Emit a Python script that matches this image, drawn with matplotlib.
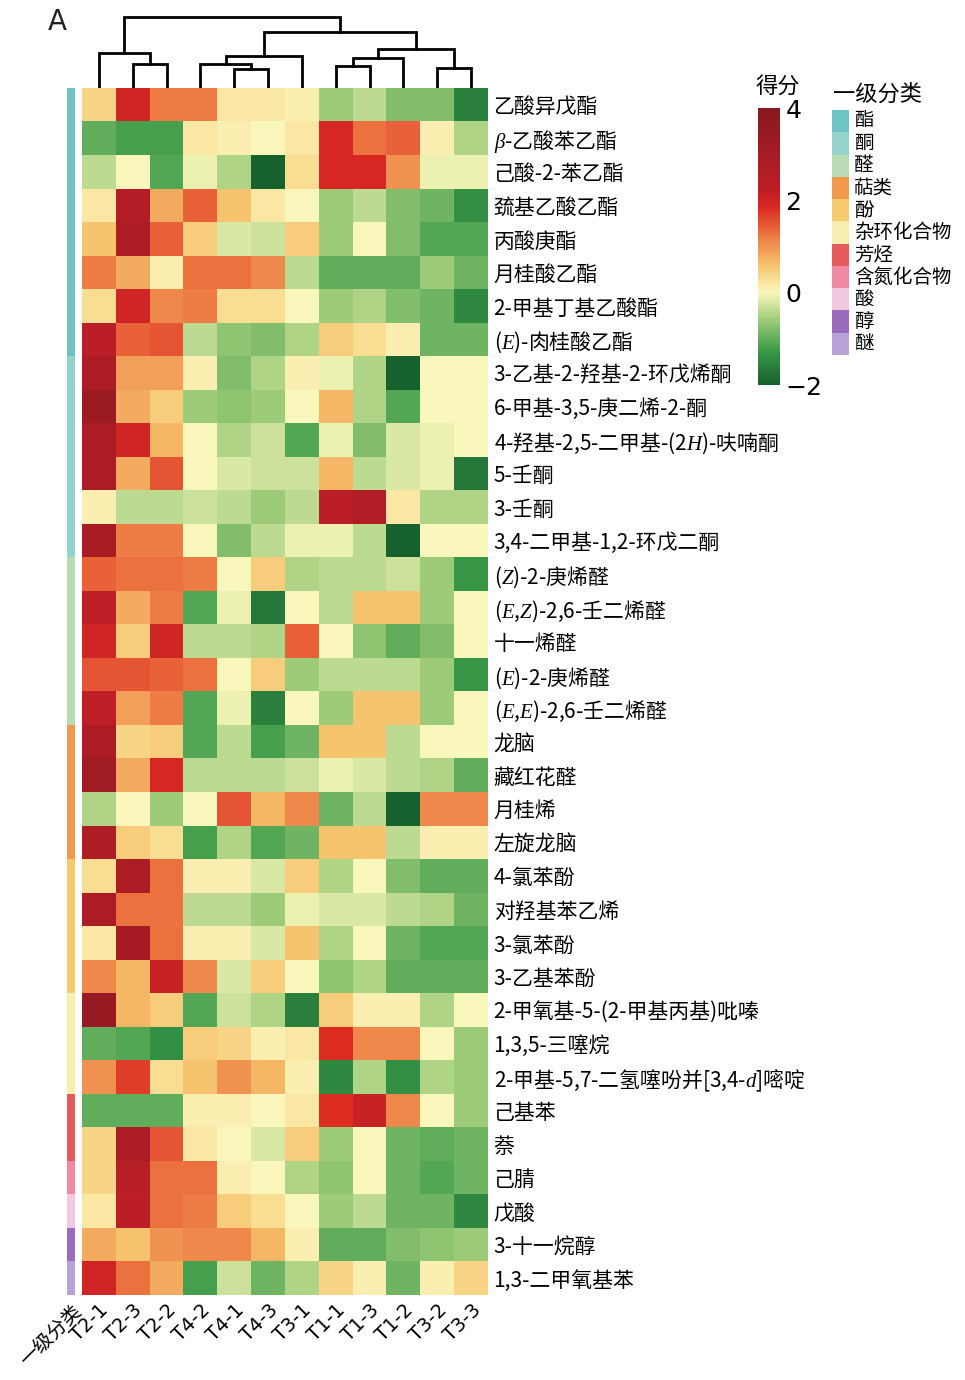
import numpy as np
import matplotlib
matplotlib.use('Agg')
import matplotlib.pyplot as plt
from matplotlib.colors import LinearSegmentedColormap, ListedColormap, Normalize

plt.rcParams['font.family'] = ['Noto Sans CJK SC', 'DejaVu Sans']
plt.rcParams['mathtext.fontset'] = 'custom'
plt.rcParams['mathtext.rm'] = 'Noto Sans CJK SC'
plt.rcParams['mathtext.it'] = 'Liberation Serif:italic'
plt.rcParams['axes.unicode_minus'] = True

# samples (column order after clustering)
samples = ['T2-1', 'T2-3', 'T2-2', 'T4-2', 'T4-1', 'T4-3', 'T3-1',
           'T1-1', 'T1-3', 'T1-2', 'T3-2', 'T3-3']

compounds = ['乙酸异戊酯', r'$\beta$-乙酸苯乙酯', '己酸-2-苯乙酯', '巯基乙酸乙酯',
             '丙酸庚酯', '月桂酸乙酯', '2-甲基丁基乙酸酯', r'($E$)-肉桂酸乙酯',
             '3-乙基-2-羟基-2-环戊烯酮', '6-甲基-3,5-庚二烯-2-酮',
             r'4-羟基-2,5-二甲基-(2$H$)-呋喃酮', '5-壬酮', '3-壬酮',
             '3,4-二甲基-1,2-环戊二酮', r'($Z$)-2-庚烯醛', r'($E$,$Z$)-2,6-壬二烯醛',
             '十一烯醛', r'($E$)-2-庚烯醛', r'($E$,$E$)-2,6-壬二烯醛', '龙脑',
             '藏红花醛', '月桂烯', '左旋龙脑', '4-氯苯酚', '对羟基苯乙烯', '3-氯苯酚',
             '3-乙基苯酚', '2-甲氧基-5-(2-甲基丙基)吡嗪', '1,3,5-三噻烷',
             r'2-甲基-5,7-二氢噻吩并[3,4-$d$]嘧啶', '己基苯', '萘', '己腈', '戊酸',
             '3-十一烷醇', '1,3-二甲氧基苯']

# first-level class of each compound (index into class_names)
row_class = [0] * 8 + [1] * 6 + [2] * 5 + [3] * 4 + [4] * 4 + [5] * 3 + [6] * 2 + [7, 8, 9, 10]

class_names = ['酯', '酮', '醛', '萜类', '酚', '杂环化合物', '芳烃', '含氮化合物', '酸', '醇', '醚']
class_colors = ['#6ec3c4', '#94d3c9', '#b9dcb2', '#f19a4e', '#f6cb6e', '#f6efb0',
                '#e65a5c', '#ef8aa2', '#f2c9e0', '#9a6cbd', '#b7a3d9']

# z-scores
scores = np.array([
    [0.4, 2.0, 1.2, 1.2, 0.2, 0.2, 0.1, -0.6, -0.4, -0.8, -0.8, -1.6],
    [-1.0, -1.2, -1.2, 0.2, 0.1, 0.0, 0.2, 1.9, 1.3, 1.4, 0.1, -0.5],
    [-0.4, 0.0, -1.1, -0.1, -0.5, -2.0, 0.3, 1.9, 1.9, 1.0, -0.1, -0.1],
    [0.2, 2.6, 0.8, 1.4, 0.6, 0.2, 0.0, -0.6, -0.4, -0.8, -0.9, -1.4],
    [0.6, 2.7, 1.4, 0.5, -0.2, -0.3, 0.5, -0.6, 0.0, -0.8, -1.1, -1.1],
    [1.2, 0.8, 0.1, 1.3, 1.3, 1.1, -0.4, -1.0, -1.0, -1.0, -0.6, -0.9],
    [0.3, 2.0, 1.1, 1.2, 0.3, 0.3, 0.0, -0.6, -0.5, -0.8, -0.9, -1.5],
    [2.3, 1.4, 1.5, -0.4, -0.7, -0.8, -0.5, 0.5, 0.3, 0.1, -0.9, -0.9],
    [2.8, 0.9, 0.9, 0.1, -0.8, -0.5, 0.1, -0.1, -0.5, -2.0, 0.0, 0.0],
    [3.3, 0.8, 0.5, -0.6, -0.7, -0.6, 0.0, 0.7, -0.5, -1.1, 0.0, 0.0],
    [2.8, 2.0, 0.7, 0.0, -0.5, -0.3, -1.1, -0.1, -0.8, -0.2, -0.1, 0.0],
    [2.8, 0.8, 1.5, 0.0, -0.2, -0.3, -0.3, 0.7, -0.4, -0.2, -0.1, -1.7],
    [0.1, -0.4, -0.4, -0.3, -0.4, -0.6, -0.4, 2.3, 2.6, 0.2, -0.5, -0.5],
    [2.9, 1.2, 1.2, 0.0, -0.8, -0.4, -0.1, -0.1, -0.4, -2.0, 0.0, 0.0],
    [1.4, 1.3, 1.3, 1.2, 0.0, 0.5, -0.5, -0.4, -0.4, -0.3, -0.6, -1.3],
    [2.2, 0.8, 1.2, -1.1, -0.1, -1.7, 0.0, -0.4, 0.6, 0.6, -0.6, 0.0],
    [2.0, 0.5, 2.0, -0.4, -0.4, -0.5, 1.4, 0.0, -0.7, -1.0, -0.8, 0.0],
    [1.5, 1.5, 1.4, 1.3, 0.0, 0.5, -0.6, -0.4, -0.4, -0.4, -0.6, -1.3],
    [2.2, 0.9, 1.2, -1.1, -0.1, -1.6, 0.0, -0.6, 0.6, 0.6, -0.6, 0.0],
    [2.8, 0.4, 0.5, -1.1, -0.4, -1.2, -0.9, 0.6, 0.6, -0.4, 0.0, 0.0],
    [3.2, 0.8, 1.9, -0.4, -0.4, -0.4, -0.3, -0.1, -0.2, -0.4, -0.5, -1.0],
    [-0.5, 0.0, -0.6, 0.0, 1.5, 0.7, 1.1, -0.9, -0.4, -2.0, 1.1, 1.1],
    [2.7, 0.5, 0.3, -1.2, -0.5, -1.1, -0.9, 0.6, 0.6, -0.4, 0.1, 0.1],
    [0.3, 2.8, 1.3, 0.1, 0.1, -0.2, 0.5, -0.5, 0.0, -0.8, -1.0, -1.0],
    [2.8, 1.3, 1.3, -0.4, -0.4, -0.6, -0.1, -0.2, -0.2, -0.4, -0.5, -0.9],
    [0.2, 3.0, 1.3, 0.1, 0.1, -0.2, 0.6, -0.5, 0.0, -0.9, -1.1, -1.1],
    [1.1, 0.7, 2.1, 1.1, -0.2, 0.5, 0.0, -0.7, -0.5, -1.0, -1.0, -1.0],
    [3.5, 0.7, 0.5, -1.1, -0.3, -0.5, -1.6, 0.5, 0.1, 0.1, -0.5, 0.0],
    [-1.0, -1.1, -1.4, 0.5, 0.4, 0.1, 0.2, 1.8, 1.1, 1.1, 0.0, -0.6],
    [1.0, 1.7, 0.3, 0.6, 1.0, 0.7, 0.1, -1.5, -0.5, -1.4, -0.5, -0.6],
    [-1.0, -1.0, -1.0, 0.1, 0.1, 0.0, 0.2, 1.8, 2.1, 1.1, 0.0, -0.6],
    [0.4, 2.8, 1.5, 0.2, 0.0, -0.2, 0.5, -0.6, 0.0, -0.9, -1.0, -0.9],
    [0.4, 2.4, 1.3, 1.3, 0.1, 0.0, -0.5, -0.7, 0.0, -0.9, -1.1, -0.9],
    [0.2, 2.3, 1.3, 1.2, 0.5, 0.3, 0.0, -0.6, -0.4, -0.9, -0.9, -1.5],
    [0.8, 0.6, 1.0, 1.1, 1.1, 0.7, 0.1, -1.0, -1.0, -0.8, -0.7, -0.6],
    [2.0, 1.3, 0.8, -1.2, -0.3, -0.9, -0.5, 0.4, 0.1, -0.9, 0.1, 0.4],
])

# column dendrogram: (left node, right node, height); nodes >= 12 are earlier merges
merges = [(1, 2, 23), (0, 12, 34), (4, 5, 18), (3, 14, 23), (15, 6, 31),
          (7, 8, 21), (17, 9, 29), (10, 11, 19), (18, 19, 37), (16, 20, 54),
          (13, 21, 68)]

W, H = 965, 1380
fig = plt.figure(figsize=(W / 100, H / 100), dpi=100)

def fax(x0, y0, x1, y1):
    # pixel box (top-left origin) -> figure axes
    return fig.add_axes([x0 / W, 1 - y1 / H, (x1 - x0) / W, (y1 - y0) / H])

cmap = LinearSegmentedColormap.from_list('score', [
    (0.0, '#17612f'), (0.12, '#3a9a48'), (0.23, '#9ccb78'), (0.333, '#fbf8bd'),
    (0.43, '#f7c56f'), (0.53, '#ee8046'), (0.64, '#dd2a22'), (0.70, '#bf1f27'),
    (1.0, '#88181f')])
norm = Normalize(vmin=-2, vmax=4)

# heatmap
ax = fax(82, 88, 488, 1295)
ax.imshow(scores, cmap=cmap, norm=norm, aspect='auto', interpolation='nearest')
ax.set_xticks(np.arange(len(samples)))
ax.set_xticklabels(samples, rotation=45, ha='right', va='top',
                   rotation_mode='anchor', fontsize=14, family='DejaVu Sans')
ax.yaxis.tick_right()
ax.set_yticks(np.arange(len(compounds)))
ax.set_yticklabels(compounds, fontsize=15)
ax.tick_params(length=0, pad=4)
for s in ax.spines.values():
    s.set_visible(False)

# class annotation bar
ax_c = fax(67, 88, 75, 1295)
ax_c.imshow(np.array(row_class)[:, None], cmap=ListedColormap(class_colors),
            vmin=-0.5, vmax=len(class_names) - 0.5, aspect='auto', interpolation='nearest')
ax_c.set_yticks([])
ax_c.set_xticks([0])
ax_c.set_xticklabels(['一级分类'], rotation=45, ha='right', va='top',
                     rotation_mode='anchor', fontsize=14)
ax_c.tick_params(length=0, pad=4)
for s in ax_c.spines.values():
    s.set_visible(False)

# dendrogram
ax_d = fax(82, 15, 488, 88)
pos = {i: (i + 0.5, 0.0) for i in range(len(samples))}
for k, (a, b, h) in enumerate(merges):
    xa, ha_ = pos[a]
    xb, hb = pos[b]
    ax_d.plot([xa, xa, xb, xb], [ha_, h, h, hb], color='black', lw=2.0,
              solid_joinstyle='miter')
    pos[len(samples) + k] = ((xa + xb) / 2, h)
ax_d.set_xlim(0, len(samples))
ax_d.set_ylim(0, 70)
ax_d.axis('off')

fig.text(48 / W, 1 - 30 / H, 'A', fontsize=20, family='DejaVu Sans', color='#222222')

# colorbar
ax_cb = fax(758, 108, 780, 385)
grad = np.linspace(4, -2, 300)[:, None]
ax_cb.imshow(grad, cmap=cmap, norm=norm, aspect='auto', extent=[0, 1, -2, 4])
ax_cb.set_xticks([])
ax_cb.yaxis.tick_right()
ax_cb.set_yticks([4, 2, 0, -2])
ax_cb.set_yticklabels(['4', '2', '0', '\u22122'], fontsize=18, family='DejaVu Sans')
ax_cb.tick_params(length=0, pad=4)
for s in ax_cb.spines.values():
    s.set_visible(False)
fig.text(778 / W, 1 - 86 / H, '得分', fontsize=16, ha='center', va='center')

# class legend
ax_l = fax(832, 110, 849, 355)
ax_l.imshow(np.arange(len(class_names))[:, None], cmap=ListedColormap(class_colors),
            aspect='auto', interpolation='nearest')
ax_l.axis('off')
fig.text(833 / W, 1 - 94 / H, '一级分类', fontsize=16, ha='left', va='center')
step = (355 - 110) / len(class_names)
for i, name in enumerate(class_names):
    fig.text(854 / W, 1 - (110 + step * (i + 0.5)) / H, name, fontsize=14,
             ha='left', va='center')

fig.savefig('out.png', dpi=100, facecolor='white')
